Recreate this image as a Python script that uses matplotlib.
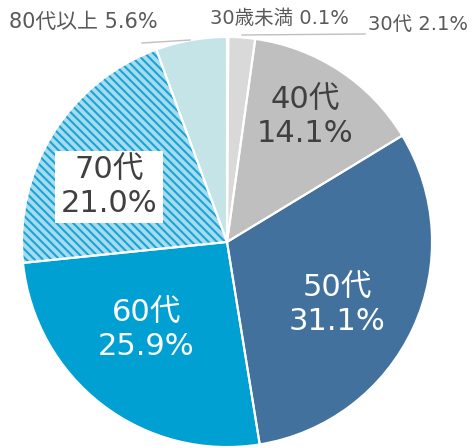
import numpy as np
import matplotlib.pyplot as plt

plt.rcParams['font.family'] = ['DejaVu Sans', 'Noto Sans CJK JP']

# data
labels = ['30歳未満', '30代', '40代', '50代', '60代', '70代', '80代以上']
values = [0.1, 2.1, 14.1, 31.1, 25.9, 21.0, 5.6]
colors = ['#d9d9d9', '#d9d9d9', '#bfbfbf', '#41719c', '#00a0d2', '#a6dcef', '#c5e4e8']

fig = plt.figure(figsize=(4.72, 4.48), dpi=100)
ax = fig.add_axes([0, 0, 1, 1])

center = (227, 206)
radius = 205

plt.rcParams['hatch.linewidth'] = 1.5
wedges, _ = ax.pie(values, colors=colors, startangle=90, counterclock=False,
                   center=center, radius=radius, frame=True,
                   wedgeprops=dict(linewidth=0))
wedges[5].set_hatch('\\\\\\\\')
wedges[5].set_edgecolor('#1ba3d4')
wedges[5].set_linewidth(0)

# white separators on top
ax.pie(values, colors=['none'] * len(values), startangle=90, counterclock=False,
       center=center, radius=radius, frame=True,
       wedgeprops=dict(linewidth=1.5, edgecolor='white', facecolor='none'))
ax.set_xlim(0, 472)
ax.set_ylim(0, 448)
ax.axis('off')

# inner labels
inner = {2: (305, 117, '#404040'), 3: (337, 305, 'white'),
         4: (146, 330, 'white'), 5: (109, 187, '#404040')}
for i, (x, y, c) in inner.items():
    t = ax.text(x, 448 - y, f'{labels[i]}\n{values[i]:.1f}%', ha='center', va='center',
                fontsize=22, color=c, linespacing=1.15)
    if i == 5:
        t.set_bbox(dict(facecolor='white', edgecolor='none', pad=4))

# outer labels
ax.text(9, 448 - 22, f'{labels[6]} {values[6]:.1f}%', ha='left', va='center',
        fontsize=15, color='#595959')
ax.text(210, 448 - 18, f'{labels[0]} {values[0]:.1f}%', ha='left', va='center',
        fontsize=14, color='#595959')
ax.text(368, 448 - 24, f'{labels[1]} {values[1]:.1f}%', ha='left', va='center',
        fontsize=14, color='#595959')
ax.plot([142, 190], [448 - 43, 448 - 40], color='#bfbfbf', lw=1)
ax.plot([242, 365], [448 - 35, 448 - 34], color='#bfbfbf', lw=1)

fig.savefig('out.png', dpi=100)
